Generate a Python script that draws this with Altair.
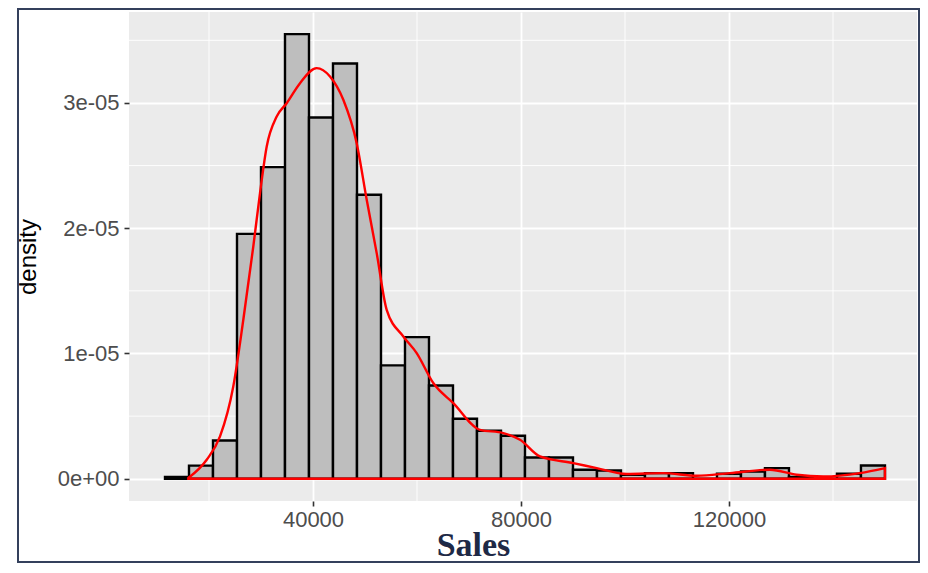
import altair as alt
import pandas as pd

# ---- data ----
bin_start = [11540, 16155, 20770, 25385, 30000, 34615, 39230, 43845, 48460, 53075,
             57690, 62305, 66920, 71535, 76150, 80765, 85380, 89995, 94610, 99225,
             103840, 108455, 113070, 117685, 122300, 126915, 131530, 136145, 140760, 145375]
bin_end = [16155, 20770, 25385, 30000, 34615, 39230, 43845, 48460, 53075, 57690,
           62305, 66920, 71535, 76150, 80765, 85380, 89995, 94610, 99225, 103840,
           108455, 113070, 117685, 122300, 126915, 131530, 136145, 140760, 145375, 149990]
bar_density = [0.015e-5, 0.105e-5, 0.306e-5, 1.955e-5, 2.488e-5, 3.549e-5, 2.884e-5, 3.315e-5,
               2.267e-5, 0.905e-5, 1.131e-5, 0.745e-5, 0.479e-5, 0.383e-5, 0.343e-5, 0.170e-5,
               0.170e-5, 0.072e-5, 0.066e-5, 0.032e-5, 0.045e-5, 0.045e-5, 0.0, 0.040e-5,
               0.058e-5, 0.085e-5, 0.015e-5, 0.0, 0.040e-5, 0.106e-5]

kde_x = [16020, 19560, 22120, 24670, 26600, 28520, 29810, 31100, 33020, 34940,
         37500, 40710, 43270, 45830, 48400, 50330, 52250, 54170, 57370, 59940,
         63130, 66980, 72110, 76600, 79810, 83650, 90060, 94560, 100330, 107360,
         113790, 120190, 127880, 133020, 138130, 145190, 149990]
kde_y = [0.006e-5, 0.152e-5, 0.338e-5, 0.737e-5, 1.269e-5, 1.854e-5, 2.280e-5, 2.652e-5,
         2.891e-5, 2.998e-5, 3.158e-5, 3.278e-5, 3.211e-5, 3.025e-5, 2.679e-5, 2.227e-5,
         1.801e-5, 1.349e-5, 1.136e-5, 1.003e-5, 0.764e-5, 0.604e-5, 0.391e-5, 0.365e-5,
         0.311e-5, 0.178e-5, 0.125e-5, 0.085e-5, 0.038e-5, 0.045e-5, 0.024e-5, 0.045e-5,
         0.072e-5, 0.032e-5, 0.018e-5, 0.045e-5, 0.085e-5]

x_major = [40000, 80000, 120000]
x_minor = [20000, 60000, 100000, 140000]
y_major = [0, 1e-5, 2e-5, 3e-5]
y_major_labels = ["0e+00", "1e-05", "2e-05", "3e-05"]
y_minor = [0.5e-5, 1.5e-5, 2.5e-5, 3.5e-5]

bars = pd.DataFrame({"start": bin_start, "end": bin_end, "density": bar_density})
kde = pd.DataFrame({"Sales": kde_x, "density": kde_y})

x_scale = alt.Scale(domain=[4617, 156150], nice=False, zero=False)
y_scale = alt.Scale(domain=[-0.1775e-5, 3.726e-5], nice=False, zero=False)

label_expr = "[" + ",".join("'%s'" % s for s in y_major_labels) + "][round(datum.value*100000)]"

x_axis = alt.Axis(values=x_major, format="d", title="Sales",
                  titleFont="Liberation Serif", titleFontWeight="bold", titleFontSize=34,
                  titleColor="#1E2946", titleX=344, titleY=54, titleBaseline="alphabetic",
                  titleAlign="center", labelPadding=3)
y_axis = alt.Axis(values=y_major, labelExpr=label_expr, title="density",
                  titleFont="Liberation Sans", titleFontWeight="normal", titleFontSize=24,
                  titleColor="#000000", titlePadding=17, labelPadding=5)

minor_x_rules = alt.Chart(pd.DataFrame({"v": x_minor})).mark_rule(
    color="white", strokeWidth=0.9).encode(x=alt.X("v:Q", scale=x_scale, axis=x_axis))
minor_y_rules = alt.Chart(pd.DataFrame({"v": y_minor})).mark_rule(
    color="white", strokeWidth=0.9).encode(y=alt.Y("v:Q", scale=y_scale, axis=y_axis))

hist = alt.Chart(bars).mark_rect(fill="#BEBEBE", stroke="black", strokeWidth=2.4).encode(
    x=alt.X("start:Q", scale=x_scale, axis=x_axis),
    x2="end:Q",
    y=alt.Y("density:Q", scale=y_scale, axis=y_axis),
    y2=alt.datum(0),
)

dens = alt.Chart(kde).mark_area(fillOpacity=0, stroke="#FF0000", strokeWidth=2.4,
                                interpolate="monotone").encode(
    x=alt.X("Sales:Q", scale=x_scale, axis=x_axis),
    y=alt.Y("density:Q", scale=y_scale, axis=y_axis),
)

frame = alt.Chart(pd.DataFrame({"a": [0]})).mark_rect(
    fillOpacity=0, stroke="#34405C", strokeWidth=2).encode(
    x=alt.value(-111), x2=alt.value(790), y=alt.value(-3), y2=alt.value(550))

chart = alt.layer(minor_x_rules, minor_y_rules, hist, dens, frame).properties(
    width=788, height=489,
    autosize=alt.AutoSizeParams(type="none"),
    padding={"left": 121, "top": 4, "right": 3, "bottom": 62},
    background="white",
).configure_view(
    fill="#EBEBEB", stroke=None
).configure_axis(
    grid=True, gridColor="white", gridWidth=1.8, domain=False,
    labelFont="Liberation Sans", labelFontSize=22, labelColor="#4D4D4D",
    tickColor="#333333", tickSize=5, tickWidth=1.6,
)

chart.save("out.html", embed_options={"renderer": "svg", "actions": False})
